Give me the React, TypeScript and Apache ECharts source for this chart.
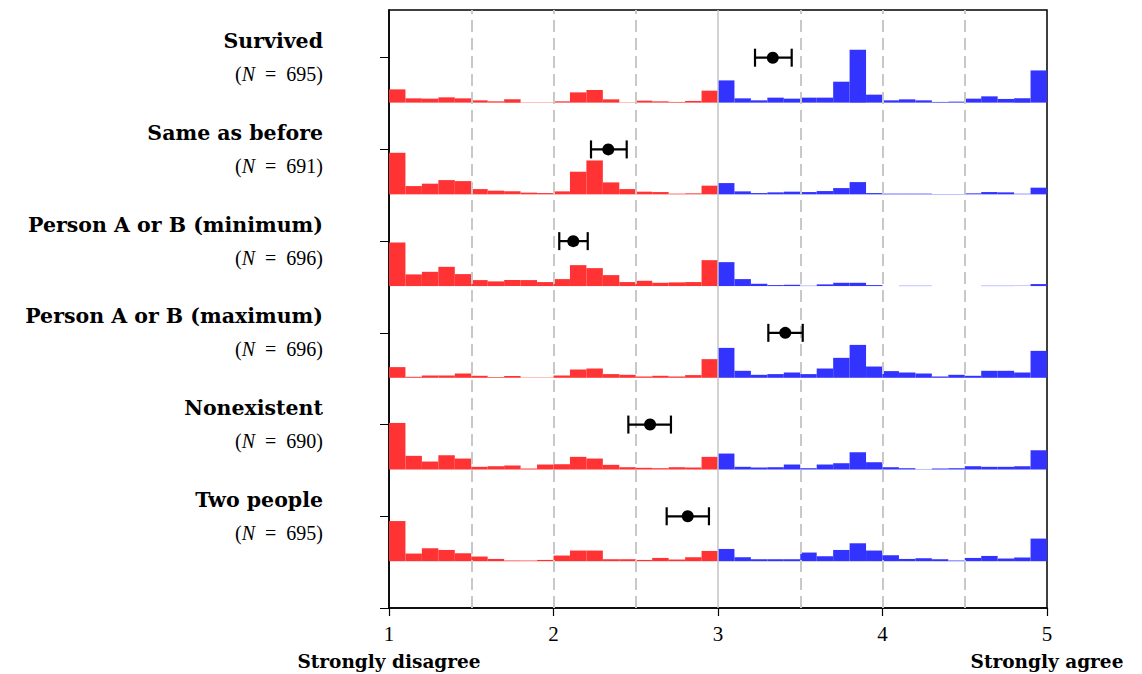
import React, { useEffect, useRef } from "react";
import * as echarts from "echarts";

// ---------- data ----------
const rowNames = [
  "Survived",
  "Same as before",
  "Person A or B (minimum)",
  "Person A or B (maximum)",
  "Nonexistent",
  "Two people",
];
const rowN = [695, 691, 696, 696, 690, 695];

const xTicks = [1, 2, 3, 4, 5];
const xEndLabels = ["Strongly disagree", "Strongly agree"];
const yTicks = [0, 1, 2, 3, 4, 5, 6];

const meanValues = [3.333, 2.333, 2.12, 3.409, 2.587, 2.816];
const ciLow = [3.225, 2.228, 2.035, 3.306, 2.455, 2.688];
const ciHigh = [3.448, 2.445, 2.208, 3.515, 2.714, 2.945];

// bin starts (width 0.1)
const disagreeBins = [1.0, 1.1, 1.2, 1.3, 1.4, 1.5, 1.6, 1.7, 1.8, 1.9, 2.0, 2.1, 2.2, 2.3, 2.4, 2.5, 2.6, 2.7, 2.8, 2.9];
const agreeBins = [3.0, 3.1, 3.2, 3.3, 3.4, 3.5, 3.6, 3.7, 3.8, 3.9, 4.0, 4.1, 4.2, 4.3, 4.4, 4.5, 4.6, 4.7, 4.8, 4.9];
const binWidth = 0.1;

// relative bar heights (density, arbitrary units)
const disagreeHeights = [
  [13.3, 4.3, 4.0, 5.3, 4.3, 2.3, 1.3, 3.3, 0.3, 0.3, 1.3, 10.3, 12.7, 3.3, 0.3, 2.0, 1.3, 0.7, 1.7, 12.0],
  [41.7, 8.3, 10.7, 14.3, 13.3, 5.3, 3.7, 3.0, 1.7, 1.3, 3.0, 22.7, 34.0, 12.0, 5.3, 2.7, 2.3, 0.7, 1.0, 8.7],
  [43.7, 11.7, 14.3, 19.3, 12.0, 6.0, 4.7, 6.0, 6.0, 4.0, 7.0, 21.0, 18.0, 11.0, 4.0, 5.3, 3.3, 3.7, 4.0, 26.0],
  [10.7, 1.0, 2.3, 2.3, 4.3, 2.0, 0.7, 1.7, 0.3, 0.3, 2.3, 8.3, 9.3, 3.7, 3.0, 1.3, 2.0, 1.3, 2.7, 18.7],
  [46.7, 13.7, 8.0, 14.3, 11.0, 2.7, 3.3, 4.0, 1.0, 5.0, 5.3, 12.7, 11.0, 4.7, 2.3, 1.7, 1.3, 2.3, 2.0, 12.7],
  [40.3, 7.7, 13.0, 11.3, 8.0, 4.7, 2.3, 0.7, 0.7, 1.3, 5.7, 10.7, 10.7, 2.0, 2.0, 1.3, 3.3, 1.7, 4.0, 10.3],
];
const agreeHeights = [
  [22.3, 4.3, 2.3, 5.0, 4.0, 5.0, 5.0, 21.0, 53.0, 8.0, 2.3, 3.3, 2.3, 0.7, 1.0, 4.0, 6.3, 3.7, 4.3, 32.3],
  [11.3, 3.0, 1.3, 2.0, 2.7, 2.3, 3.3, 6.3, 12.3, 1.3, 0.7, 0.7, 0.7, 0.3, 0.3, 1.0, 2.3, 2.0, 0.7, 6.7],
  [24.0, 7.0, 2.3, 1.0, 1.3, 0.3, 1.7, 3.3, 3.3, 1.0, 0.0, 0.3, 0.3, 0.0, 0.0, 0.0, 0.3, 0.3, 0.3, 2.0],
  [30.0, 7.0, 3.0, 3.7, 5.3, 3.7, 9.3, 20.0, 33.0, 11.3, 6.7, 5.3, 4.3, 1.3, 3.0, 2.0, 7.0, 7.0, 5.3, 27.0],
  [16.0, 2.7, 2.0, 2.3, 5.0, 1.3, 5.0, 6.3, 17.3, 7.3, 2.3, 1.3, 0.3, 1.0, 1.3, 3.3, 2.7, 2.7, 3.3, 19.3],
  [12.3, 4.0, 2.0, 2.0, 2.0, 8.7, 5.0, 11.3, 18.0, 10.7, 6.0, 2.3, 3.0, 2.0, 0.7, 3.3, 5.3, 2.7, 3.7, 22.7],
];

const dashedGrid = [1.5, 2, 2.5, 3.5, 4, 4.5];
const solidGrid = [3];

// ---------- layout / style constants ----------
const HEIGHT_SCALE = 1 / 92; // density units -> row units
const BASE_OFFSET = 0.49; // baseline below row tick
const RED = "#ff3333";
const BLUE = "#3333ff";
const SERIF = "'Liberation Serif', 'DejaVu Serif', serif";
const BOLD_SERIF = "'DejaVu Serif', serif";
const EN = "\u2002";

export default function App() {
  const ref = useRef<HTMLDivElement>(null);

  useEffect(() => {
    if (!ref.current) return;
    const chart = echarts.init(ref.current, null, { renderer: "svg" });
    const nRows = rowNames.length;
    const rowY = (i: number) => nRows - i;

    const barData: any[] = [];
    rowNames.forEach((_, i) => {
      disagreeHeights[i].forEach((h, j) => {
        barData.push({ value: [disagreeBins[j], disagreeBins[j] + binWidth, rowY(i) - BASE_OFFSET, h * HEIGHT_SCALE], itemStyle: { color: RED } });
      });
      agreeHeights[i].forEach((h, j) => {
        barData.push({ value: [agreeBins[j], agreeBins[j] + binWidth, rowY(i) - BASE_OFFSET, h * HEIGHT_SCALE], itemStyle: { color: BLUE } });
      });
    });

    const errData = rowNames.map((_, i) => [meanValues[i], ciLow[i], ciHigh[i], rowY(i)]);

    const labelFor: Record<number, string> = {};
    rowNames.forEach((name, i) => {
      labelFor[rowY(i)] = `{t|${name}}\n{p|(}{i|N}{p|${EN}=${EN}${rowN[i]})}`;
    });

    const option: any = {
      animation: false,
      grid: {
        left: 389,
        right: 95,
        top: 10,
        bottom: 64,
        show: true,
        borderColor: "#000",
        borderWidth: 1.5,
        backgroundColor: "transparent",
      },
      xAxis: {
        type: "value",
        min: xTicks[0],
        max: xTicks[xTicks.length - 1],
        interval: 1,
        axisLine: { show: true, lineStyle: { color: "#000", width: 1.5 } },
        axisTick: { show: true, length: 8, lineStyle: { color: "#000", width: 1.2 } },
        splitLine: { show: false },
        axisLabel: {
          margin: 12,
          color: "#000",
          fontFamily: SERIF,
          fontSize: 21,
          lineHeight: 28,
          formatter: (v: number) => {
            if (v === xTicks[0]) return `{n|${v}}\n{e|${xEndLabels[0]}}`;
            if (v === xTicks[xTicks.length - 1]) return `{n|${v}}\n{e|${xEndLabels[1]}}`;
            return `{n|${v}}`;
          },
          rich: {
            n: { fontFamily: SERIF, fontSize: 21, color: "#000", lineHeight: 28 },
            e: { fontFamily: BOLD_SERIF, fontWeight: "bold", fontSize: 18.5, color: "#000", lineHeight: 26 },
          },
        },
      },
      yAxis: {
        type: "value",
        min: 0,
        max: 6.52,
        interval: 1,
        axisLine: { show: true, lineStyle: { color: "#000", width: 1.5 } },
        axisTick: { show: true, length: 9, lineStyle: { color: "#000" }, customValues: yTicks },
        splitLine: { show: false },
        axisLabel: {
          margin: 66,
          align: "right",
          customValues: yTicks,
          formatter: (v: number) => labelFor[v] || "",
          rich: {
            t: { fontFamily: BOLD_SERIF, fontWeight: "bold", fontSize: 20.5, color: "#000", lineHeight: 33, align: "right" },
            p: { fontFamily: SERIF, fontSize: 20, color: "#000", lineHeight: 33 },
            i: { fontFamily: SERIF, fontStyle: "italic", fontSize: 20, color: "#000", lineHeight: 33 },
          },
        },
      },
      series: [
        {
          type: "line",
          data: [],
          silent: true,
          z: 1,
          markLine: {
            silent: true,
            symbol: "none",
            label: { show: false },
            data: [
              ...dashedGrid.map((x) => ({ xAxis: x, lineStyle: { color: "#c8c8c8", type: [12, 6], width: 2 } })),
              ...solidGrid.map((x) => ({ xAxis: x, lineStyle: { color: "#c4c4c4", type: "solid", width: 1.5 } })),
            ],
          },
        },
        {
          type: "custom",
          z: 3,
          silent: true,
          data: barData,
          encode: { x: [0, 1], y: [2, 3] },
          renderItem: (params: any, api: any) => {
            const x0 = api.value(0);
            const x1 = api.value(1);
            const base = api.value(2);
            const h = api.value(3);
            if (h <= 0) return null;
            const p0 = api.coord([x0, base]);
            const p1 = api.coord([x1, base + h]);
            return {
              type: "rect",
              shape: { x: p0[0], y: p1[1], width: p1[0] - p0[0], height: p0[1] - p1[1] },
              style: { fill: api.visual("color") },
            };
          },
        },
        {
          type: "custom",
          z: 5,
          silent: true,
          data: errData,
          encode: { x: [0, 1, 2], y: 3 },
          renderItem: (params: any, api: any) => {
            const m = api.coord([api.value(0), api.value(3)]);
            const lo = api.coord([api.value(1), api.value(3)]);
            const hi = api.coord([api.value(2), api.value(3)]);
            const cap = 9;
            const ls = { stroke: "#000", lineWidth: 2.2 };
            return {
              type: "group",
              children: [
                { type: "line", shape: { x1: lo[0], y1: lo[1], x2: hi[0], y2: hi[1] }, style: ls },
                { type: "line", shape: { x1: lo[0], y1: lo[1] - cap, x2: lo[0], y2: lo[1] + cap }, style: ls },
                { type: "line", shape: { x1: hi[0], y1: hi[1] - cap, x2: hi[0], y2: hi[1] + cap }, style: ls },
                { type: "circle", shape: { cx: m[0], cy: m[1], r: 6 }, style: { fill: "#000" } },
              ],
            };
          },
        },
      ],
    };
    chart.setOption(option);
    return () => chart.dispose();
  }, []);

  return (
    <div
      ref={ref}
      style={{ position: "fixed", left: 0, top: 0, width: 1142, height: 674, background: "#fff" }}
    />
  );
}
